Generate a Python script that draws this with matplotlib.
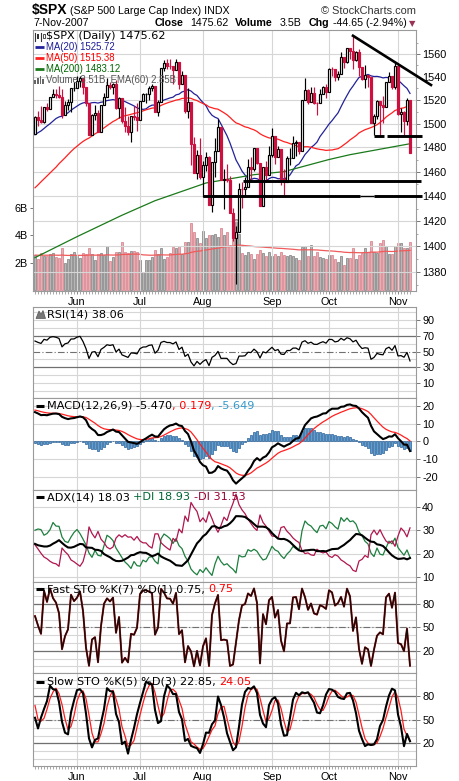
import numpy as np
import matplotlib
matplotlib.use("Agg")
import matplotlib.pyplot as plt
from matplotlib.patches import Polygon, Rectangle
from matplotlib.ticker import FixedLocator, NullFormatter

# ---------------- data ----------------
month_labels = ["Jun", "Jul", "Aug", "Sep", "Oct", "Nov"]
month_pos = [14, 35, 56, 79, 98, 121]

# closes 1-Mar-2007 .. 10-May-2007 (indicator warm-up)
warm_close = [1403.17, 1387.17, 1374.12, 1395.41, 1391.97, 1401.89, 1402.84, 1406.60, 1377.95, 1387.17,
              1392.28, 1386.95, 1402.06, 1410.94, 1435.04, 1434.54, 1436.11, 1437.50, 1428.61, 1417.23,
              1422.53, 1420.86, 1424.55, 1437.77, 1439.37, 1443.76, 1444.61, 1448.39, 1438.87, 1447.80,
              1452.85, 1468.47, 1471.48, 1472.50, 1470.73, 1484.35, 1480.93, 1480.41, 1495.42, 1494.25,
              1494.07, 1482.37, 1486.30, 1495.92, 1502.39, 1505.62, 1509.48, 1507.72, 1512.58, 1491.47]
warm_high = [1498.02, 1497.16, 1497.16, 1487.27, 1499.10, 1503.34, 1510.34, 1511.00, 1509.48, 1513.80, 1512.58]
warm_low = [1491.17, 1488.67, 1482.29, 1476.70, 1486.30, 1495.92, 1501.80, 1505.54, 1498.02, 1503.77, 1491.42]

# 11-May-2007 .. 7-Nov-2007
close = [1505.85, 1503.15, 1501.19, 1514.14, 1512.75, 1522.75, 1525.10, 1524.12, 1522.28, 1507.51, 1515.73, 1518.11, 1530.23, 1530.62,
         1536.34, 1539.18, 1530.95, 1517.38, 1490.72, 1507.67, 1509.12, 1493.00, 1515.67, 1522.97, 1532.91, 1531.05, 1533.70, 1512.84,
         1522.19, 1502.56, 1497.74, 1492.89, 1506.34, 1505.71, 1503.35,
         1519.43, 1524.87, 1525.40, 1530.44, 1531.85, 1510.12, 1518.76, 1547.70, 1552.50, 1549.52, 1549.37, 1546.17, 1553.08, 1534.10,
         1541.57, 1511.04, 1518.09, 1482.66, 1458.95, 1473.91, 1455.27,
         1465.81, 1472.20, 1433.06, 1467.67, 1476.71, 1497.49, 1453.09, 1453.64, 1452.92, 1426.54, 1406.70, 1411.27, 1445.94, 1445.55,
         1447.12, 1464.07, 1462.50, 1479.37, 1466.79, 1432.36, 1463.76, 1457.64, 1473.99,
         1489.42, 1472.29, 1478.55, 1453.55, 1451.70, 1471.49, 1471.56, 1483.95, 1484.25, 1476.65, 1519.78, 1529.03, 1518.75, 1525.75,
         1517.73, 1517.21, 1525.42, 1531.38, 1526.75,
         1547.04, 1546.63, 1539.59, 1542.84, 1557.59, 1552.58, 1565.15, 1562.47, 1554.41, 1561.80, 1548.71, 1538.53, 1541.24, 1540.08,
         1500.63, 1506.33, 1519.59, 1515.88, 1514.40, 1535.28, 1540.98, 1531.02, 1549.38,
         1508.44, 1509.65, 1502.17, 1520.27, 1475.62]
high = [1506.24, 1510.90, 1514.82, 1514.15, 1517.19, 1522.75, 1529.87, 1529.24, 1532.43, 1529.31, 1519.40, 1521.14, 1530.23, 1535.56,
        1540.53, 1540.56, 1539.19, 1530.95, 1517.38, 1507.76, 1515.53, 1511.85, 1515.67, 1526.45, 1539.12, 1535.44, 1535.11, 1537.32,
        1522.90, 1522.19, 1514.29, 1506.12, 1506.80, 1514.84, 1517.53,
        1519.45, 1526.01, 1526.34, 1532.40, 1534.26, 1531.85, 1519.89, 1547.92, 1555.10, 1555.90, 1555.22, 1549.37, 1555.90, 1553.08,
        1545.06, 1541.57, 1530.43, 1518.09, 1488.53, 1477.88, 1488.30,
        1468.42, 1476.43, 1473.23, 1467.95, 1488.30, 1503.89, 1497.49, 1462.02, 1466.30, 1456.74, 1430.53, 1415.90, 1450.33, 1451.75,
        1455.32, 1470.50, 1472.31, 1479.40, 1479.37, 1466.84, 1463.76, 1468.43, 1481.47,
        1496.40, 1489.42, 1481.49, 1478.55, 1462.56, 1472.67, 1479.50, 1489.58, 1485.99, 1484.25, 1519.90, 1538.74, 1529.14, 1530.89,
        1530.94, 1518.27, 1529.39, 1532.45, 1533.74,
        1548.01, 1548.74, 1546.63, 1544.78, 1561.91, 1557.59, 1565.26, 1565.42, 1576.09, 1563.03, 1564.74, 1548.71, 1550.00, 1541.24,
        1540.08, 1508.06, 1520.01, 1519.59, 1523.24, 1535.28, 1544.67, 1540.98, 1552.76,
        1549.38, 1513.15, 1510.84, 1521.57, 1520.27]
low = [1491.47, 1498.34, 1500.43, 1500.50, 1510.56, 1512.75, 1522.71, 1522.05, 1521.90, 1505.18, 1507.51, 1511.25, 1510.06, 1528.06,
       1530.62, 1530.86, 1525.62, 1514.83, 1490.37, 1490.72, 1503.35, 1492.97, 1492.97, 1515.65, 1522.98, 1529.31, 1525.61, 1512.36,
       1504.75, 1500.74, 1492.68, 1490.54, 1484.18, 1503.41, 1493.61,
       1503.35, 1519.40, 1517.22, 1520.47, 1527.45, 1510.01, 1506.10, 1518.71, 1544.85, 1546.69, 1547.18, 1533.67, 1546.17, 1529.20,
       1534.10, 1508.62, 1504.82, 1465.30, 1458.95, 1454.32, 1454.25,
       1439.59, 1460.58, 1432.80, 1427.39, 1455.80, 1476.80, 1453.09, 1429.74, 1451.54, 1426.20, 1404.36, 1370.60, 1411.27, 1430.54,
       1439.76, 1447.12, 1452.65, 1460.26, 1465.98, 1432.01, 1432.36, 1451.25, 1457.61,
       1472.15, 1466.27, 1472.25, 1449.07, 1441.00, 1451.69, 1465.75, 1471.56, 1473.18, 1474.61, 1476.70, 1519.78, 1516.42, 1518.75,
       1516.60, 1507.13, 1517.21, 1525.42, 1521.99,
       1526.75, 1540.99, 1536.34, 1537.63, 1542.84, 1547.33, 1551.82, 1555.46, 1546.72, 1554.09, 1540.81, 1537.28, 1530.00, 1531.39,
       1500.26, 1490.40, 1503.61, 1489.56, 1500.46, 1514.40, 1535.24, 1529.96, 1529.40,
       1507.66, 1492.53, 1489.93, 1499.07, 1475.04]
# volume in billions
volume = [2.55, 2.30, 2.70, 2.45, 2.50, 2.60, 2.70, 2.40, 2.35, 3.05, 1.95, 2.30, 2.60, 2.80,
          2.45, 2.35, 2.70, 2.60, 3.10, 2.60, 2.20, 2.60, 2.70, 2.55, 3.20, 2.10, 2.40, 2.75, 2.75, 3.50, 2.75, 2.70, 2.85, 2.85, 2.80,
          2.20, 1.30, 2.20, 2.20, 2.40, 2.90, 2.60, 3.10, 2.30, 2.40, 2.70, 3.15, 3.05, 3.20, 2.60, 3.50, 3.50, 4.90, 4.20, 3.80, 3.40,
          4.30, 3.80, 4.00, 4.00, 4.10, 3.90, 4.50, 4.00, 4.25, 3.30, 3.70, 5.20, 4.10, 2.70, 2.55, 2.75, 2.60, 2.30, 2.60, 2.90, 2.70, 2.50, 2.75,
          2.50, 2.65, 2.50, 2.80, 2.55, 2.50, 2.55, 2.45, 2.35, 2.20, 3.15, 3.25, 2.50, 3.30, 2.50, 2.75, 2.40, 2.35, 2.30,
          2.55, 2.55, 2.30, 2.05, 2.45, 1.80, 2.35, 2.35, 3.05, 2.30, 2.55, 2.70, 3.10, 2.80, 3.60, 2.80, 2.70, 3.40, 3.65, 3.20, 2.60, 2.60, 3.20,
          3.40, 3.40, 3.10, 3.10, 3.51]
vol_ema_seed = 2.55

# MA(200)
ma200_idx = [0, 14, 29, 40, 57, 73, 83, 98, 105, 125]
ma200_val = [1391.0, 1407.5, 1424.6, 1436.3, 1450.7, 1457.5, 1460.0, 1470.0, 1474.0, 1483.12]

# ADX seeds at the first bar
adx_seed, pdi_seed, mdi_seed = 24.2, 30.0, 23.8

# drawn annotations (price levels)
trend_x = [106, 132]
trend_y = [1576.09, 1533.0]
hlines = [(55.9, 108.4, 1439.8, 2.1), (108.4, 112.9, 1440.0, 1.0), (112.9, 129.0, 1440.3, 2.1),
          (69.3, 128.6, 1452.6, 2.1), (112.9, 116.2, 1489.4, 2.1), (117.3, 129.0, 1490.0, 2.1)]

price_ticks = [1380, 1400, 1420, 1440, 1460, 1480, 1500, 1520, 1540, 1560]

# ---------------- computations ----------------
close = np.array(close); high = np.array(high); low = np.array(low); volume = np.array(volume)
n = len(close)
idx = np.arange(n)
open_ = np.r_[warm_close[-1], close[:-1]]
high = np.maximum(high, np.maximum(open_, close))
low = np.minimum(low, np.minimum(open_, close))
allc = np.r_[warm_close, close]
nw = len(warm_close)

def sma(x, p):
    return np.array([x[i - p + 1:i + 1].mean() if i >= p - 1 else np.nan for i in range(len(x))])

def ema(x, p, seed=None):
    a = 2.0 / (p + 1)
    out = np.empty(len(x))
    out[0] = x[0] if seed is None else seed
    for i in range(1, len(x)):
        out[i] = out[i - 1] + a * (x[i] - out[i - 1])
    return out

ma20 = sma(allc, 20)[nw:]
ma50 = sma(allc, 50)[nw:]

d = np.diff(allc)
g = np.clip(d, 0, None); l_ = np.clip(-d, 0, None)
ag = g[:14].mean(); al = l_[:14].mean()
rsi_all = [np.nan] * 15
rsi_all[14] = 100 - 100 / (1 + ag / al)
for i in range(14, len(d)):
    ag = (ag * 13 + g[i]) / 14; al = (al * 13 + l_[i]) / 14
    rsi_all.append(100 - 100 / (1 + ag / al))
rsi = np.array(rsi_all)[nw:]

macd_all = ema(allc, 12) - ema(allc, 26)
sig_all = ema(macd_all, 9)
macd = macd_all[nw:]; sig = sig_all[nw:]; hist = macd - sig

sh = np.r_[warm_high, high]; sl = np.r_[warm_low, low]; sc = np.r_[warm_close[-len(warm_high):], close]
off = len(warm_high)
def rawk(p):
    out = np.full(len(sc), np.nan)
    for k in range(p - 1, len(sc)):
        hh = sh[k - p + 1:k + 1].max(); ll = sl[k - p + 1:k + 1].min()
        out[k] = 100 * (sc[k] - ll) / (hh - ll)
    return out
fastk = rawk(7)[off:]
r5 = rawk(5)
slowk_all = np.array([np.nanmean(r5[k - 2:k + 1]) if k >= 6 else np.nan for k in range(len(sc))])
slowd_all = np.array([np.nanmean(slowk_all[k - 2:k + 1]) if k >= 8 else np.nan for k in range(len(sc))])
slowk = slowk_all[off:]; slowd = slowd_all[off:]

ph = np.r_[warm_high[-1], high]; pl = np.r_[warm_low[-1], low]; pc = np.r_[warm_close[-1], close]
tr = np.maximum(ph[1:] - pl[1:], np.maximum(np.abs(ph[1:] - pc[:-1]), np.abs(pl[1:] - pc[:-1])))
upm = ph[1:] - ph[:-1]; dnm = pl[:-1] - pl[1:]
pdm = np.where((upm > dnm) & (upm > 0), upm, 0.0)
mdm = np.where((dnm > upm) & (dnm > 0), dnm, 0.0)
atr = tr[:14].mean(); sp = pdi_seed / 100 * atr; sm = mdi_seed / 100 * atr; adx = adx_seed
pdi_l, mdi_l, adx_l = [], [], []
for t in range(n):
    if t > 0:
        atr += (tr[t] - atr) / 14; sp += (pdm[t] - sp) / 14; sm += (mdm[t] - sm) / 14
    pdi = 100 * sp / atr; mdi = 100 * sm / atr
    dx = 100 * abs(pdi - mdi) / (pdi + mdi)
    if t > 0:
        adx += (dx - adx) / 14
    pdi_l.append(pdi); mdi_l.append(mdi); adx_l.append(adx)

vol_ema = ema(volume, 60, seed=vol_ema_seed)

# ---------------- figure ----------------
W, H = 460, 781
plt.rcParams['font.family'] = ['DejaVu Sans']
fig = plt.figure(figsize=(W / 100, H / 100), dpi=100)
fig.patch.set_facecolor('white')

def rect(top, bot):
    return [33 / W, 1 - bot / H, 383 / W, (bot - top) / H]

XL = (-0.67, 127.0)
GRID = '#d6d6d6'
SPINE = '#9a9a9a'
REF = '#707070'
TF = 'Liberation Sans'
TS = 7.8
RED = '#cc1040'

def base(ax, ylim, yticks, ylabels, light, xlabels=False, minor_y=None):
    ax.set_xlim(*XL)
    ax.set_ylim(*ylim)
    for s in ax.spines.values():
        s.set_color(SPINE); s.set_linewidth(0.8)
    ax.yaxis.tick_right()
    ax.set_yticks(yticks)
    ax.set_yticklabels(ylabels)
    if minor_y is not None:
        ax.yaxis.set_minor_locator(FixedLocator(minor_y))
        ax.yaxis.set_minor_formatter(NullFormatter())
    ax.set_xticks(month_pos)
    ax.set_xticklabels(month_labels if xlabels else [])
    ax.tick_params(axis='y', which='major', length=3, width=0.7, color='#777', pad=1.5, labelsize=TS)
    ax.tick_params(axis='y', which='minor', length=1.5, width=0.6, color='#999')
    ax.tick_params(axis='x', which='major', length=2 if xlabels else 0, width=0.7, color='#888', pad=2, labelsize=TS)
    for lab in ax.get_xticklabels() + ax.get_yticklabels():
        lab.set_family(TF)
    for v in month_pos:
        ax.axvline(v, color=GRID, lw=0.8, zorder=0)
    for gy in light:
        ax.axhline(gy, color=GRID, lw=0.8, zorder=0)

# ---- main price panel ----
axv = fig.add_axes(rect(30, 291), zorder=1)
ax = fig.add_axes(rect(30, 291), zorder=2)
ax.patch.set_alpha(0)
ax.set_yscale('log')
base(ax, (1365.1, 1581.2), price_ticks, [str(p) for p in price_ticks], price_ticks,
     xlabels=True, minor_y=list(range(1370, 1580, 10)))
ax.set_xticks(idx, minor=True)
ax.tick_params(axis='x', which='minor', length=2, width=0.6, color='#999')

axv.set_xlim(*XL); axv.set_ylim(-0.07, 18.98)
for s in axv.spines.values():
    s.set_visible(False)
axv.set_xticks([])
axv.set_yticks([2, 4, 6]); axv.set_yticklabels(['2B', '4B', '6B'])
axv.tick_params(axis='y', length=2, width=0.7, color='#777', pad=1.5, labelsize=TS)
for lab in axv.get_yticklabels():
    lab.set_family(TF)
down = close < open_
vcol = np.where(down, '#e8aeb3', '#b6b6b6')
vedge = np.where(down, '#d67a84', '#7c7c7c')
axv.bar(idx, volume, width=0.95, color=vcol, edgecolor=vedge, linewidth=0.5)
axv.plot(idx, vol_ema, color='#f05a5a', lw=0.9)

ax.plot(idx, ma20, color='#22229a', lw=0.9, zorder=3)
ax.plot(idx, ma50, color='#ff2020', lw=0.9, zorder=3)
ax.plot(ma200_idx, ma200_val, color='#1a7a1a', lw=0.9, zorder=3)

ccol = np.where(down, RED, 'black')
ax.vlines(idx, low, high, colors=ccol, lw=0.85, zorder=4)
upb = close > open_
ax.bar(idx[upb], (close - open_)[upb], bottom=open_[upb], width=0.8, facecolor='white',
       edgecolor='black', linewidth=0.85, zorder=5)
dn = ~upb
ax.bar(idx[dn], np.maximum((open_ - close)[dn], 0.3), bottom=close[dn], width=0.8, facecolor=RED,
       edgecolor=RED, linewidth=0.85, zorder=5)

ax.plot(trend_x, trend_y, color='black', lw=1.9, zorder=6, clip_on=False)
for x0, x1, yv, lw in hlines:
    ax.plot([x0, x1], [yv, yv], color='black', lw=lw, zorder=6, clip_on=False, solid_capstyle='butt')

# ---- RSI ----
ar = fig.add_axes(rect(307, 398))
base(ar, (-9.0, 106.5), [10, 30, 50, 70, 90], ['10', '30', '50', '70', '90'],
     [0, 10, 20, 40, 60, 80, 90, 100])
ar.axhline(70, color=REF, lw=0.9, zorder=1)
ar.axhline(30, color=REF, lw=0.9, zorder=1)
ar.axhline(50, color=REF, lw=0.8, ls=(0, (6, 2, 1, 2)), zorder=1)
ar.plot(idx, rsi, color='black', lw=0.9, zorder=3)

# ---- MACD ----
am = fig.add_axes(rect(398, 490))
base(am, (-27.5, 24.5), [-20, -10, 0, 10, 20], ['-20', '-10', '0', '10', '20'], [-20, -10, 0, 10, 20])
am.bar(idx, hist, width=0.85, color='#5b9fd4', edgecolor='#2a5f95', linewidth=0.5, zorder=2)
am.plot(idx, sig, color='#ff2020', lw=0.9, zorder=3)
am.plot(idx, macd, color='black', lw=1.5, zorder=4)

# ---- ADX ----
aa = fig.add_axes(rect(490, 582))
base(aa, (8.05, 47.05), [10, 20, 30, 40], ['10', '20', '30', '40'], [10, 20, 30, 40])
aa.plot(idx, pdi_l, color='#1d7f3f', lw=0.9, zorder=3)
aa.plot(idx, mdi_l, color='#b0164e', lw=0.9, zorder=3)
aa.plot(idx, adx_l, color='black', lw=1.5, zorder=4)

# ---- Fast STO ----
af = fig.add_axes(rect(582, 673))
base(af, (-8.6, 108.3), [20, 50, 80], ['20', '50', '80'], list(range(0, 101, 10)))
af.axhline(80, color=REF, lw=0.9, zorder=1)
af.axhline(20, color=REF, lw=0.9, zorder=1)
af.axhline(50, color=REF, lw=0.8, ls=(0, (6, 2, 1, 2)), zorder=1)
af.plot(idx, fastk, color='#b01010', lw=1.4, zorder=3)
af.plot(idx, fastk, color='#1a0a0a', lw=1.0, zorder=4)

# ---- Slow STO ----
asl = fig.add_axes(rect(673, 766))
base(asl, (-8.6, 109.4), [20, 50, 80], ['20', '50', '80'], list(range(0, 101, 10)), xlabels=True)
asl.set_xticks(idx, minor=True)
asl.tick_params(axis='x', which='minor', length=2, width=0.6, color='#999')
asl.axhline(80, color=REF, lw=0.9, zorder=1)
asl.axhline(20, color=REF, lw=0.9, zorder=1)
asl.axhline(50, color=REF, lw=0.8, ls=(0, (6, 2, 1, 2)), zorder=1)
asl.plot(idx, slowd, color='#ff1a1a', lw=0.9, zorder=3)
asl.plot(idx, slowk, color='black', lw=1.5, zorder=4)

# ---------------- overlay texts (pixel coordinates) ----------------
ov = fig.add_axes([0, 0, 1, 1], zorder=10)
ov.set_xlim(0, W); ov.set_ylim(H, 0); ov.axis('off'); ov.patch.set_alpha(0)
renderer = fig.canvas.get_renderer()

def seq(x, y, parts, size=8.1, family='DejaVu Sans', space=0.318):
    px = size * 100 / 72
    for s, c, gap in parts:
        x += gap * space * px
        t = ov.text(x, y, s, color=c, fontsize=size, family=family, va='center', ha='left')
        x += t.get_window_extent(renderer).width
    return x

# title rows
ov.text(32, 10, '$SPX', fontsize=10, fontweight='bold', family=TF, va='center', ha='left')
ov.text(70, 10.5, '(S&P 500 Large Cap Index) INDX', fontsize=7.7, family=TF, va='center', ha='left')
ov.text(416, 10.5, '\u00a9 StockCharts.com', fontsize=7.9, family=TF, va='center', ha='right', color='#333333')
ov.text(33, 23.5, '7-Nov-2007', fontsize=7.7, family=TF, va='center', ha='left')
for xx, s, w in [(155, 'Close', 'bold'), (190, '1475.62', 'normal'), (235, 'Volume', 'bold'),
                 (280, '3.5B', 'normal'), (309, 'Chg', 'bold'), (333, '-44.65 (-2.94%)', 'normal')]:
    ov.text(xx, 23.5, s, fontsize=7.7, fontweight=w, family=TF, va='center', ha='left')
ov.text(409, 24, '\u25bc', fontsize=6.0, family='DejaVu Sans', va='center', ha='left', color='#993355')

# main legend
for xx in (35.5, 41.5):
    ov.plot([xx, xx], [32.5, 40.5], color='#333', lw=0.8)
ov.add_patch(Rectangle((37, 34), 2.2, 4.5, facecolor='#333', edgecolor='none'))
ov.add_patch(Rectangle((43, 33.5), 2.2, 4.5, facecolor='white', edgecolor='#333', lw=0.6))
seq(46.5, 36, [('$SPX (Daily) 1475.62', 'black', 0)])
rows = [(47, 'MA(20) 1525.72', '#1c1c99', '#22229a'),
        (58, 'MA(50) 1515.38', '#ff0000', '#ff2020'),
        (69, 'MA(200) 1483.12', '#006600', '#1a7a1a')]
for yy, s, tc, lc in rows:
    ov.plot([35, 44], [yy, yy], color=lc, lw=2.0, solid_capstyle='butt')
    ov.text(46.5, yy, s, color=tc, fontsize=6.9, family=TF, va='center', ha='left')
for k, hgt in enumerate([4, 6, 8, 5]):
    ov.add_patch(Rectangle((34.5 + k * 2.6, 84 - hgt), 1.8, hgt, facecolor='#666', edgecolor='none'))
ov.text(46.5, 80, 'Volume 3.51B, EMA(60) 2.85B', color='#555555', fontsize=6.9, family=TF, va='center', ha='left')

# RSI legend
ov.add_patch(Polygon([(36, 318.5), (39, 311), (41, 314.5), (43, 310.5), (45.5, 318.5)],
                     closed=True, facecolor='#777', edgecolor='#555', lw=0.5))
seq(47, 314.3, [('RSI(14) 38.06', 'black', 0)])

def dash(y):
    ov.plot([36, 44], [y, y], color='black', lw=2.2, solid_capstyle='butt')

dash(405.7)
seq(47, 405.7, [('MACD(12,26,9) -5.470', 'black', 0), (', 0.179', '#ff0000', 0), (', -5.649', '#3399cc', 0)])
dash(497.3)
seq(47, 497.3, [('ADX(14) 18.03', 'black', 0), ('+DI 18.93', '#006633', 1), ('-DI 31.53', '#990033', 1)])
dash(589.3)
seq(47, 589.3, [('Fast STO %K(7) %D(1) 0.75,', 'black', 0), ('0.75', '#ff0000', 1)])
dash(681.7)
seq(47, 681.7, [('Slow STO %K(5) %D(3) 22.85,', 'black', 0), ('24.05', '#ff0000', 1)])

fig.savefig('out.png', dpi=100, facecolor='white')
